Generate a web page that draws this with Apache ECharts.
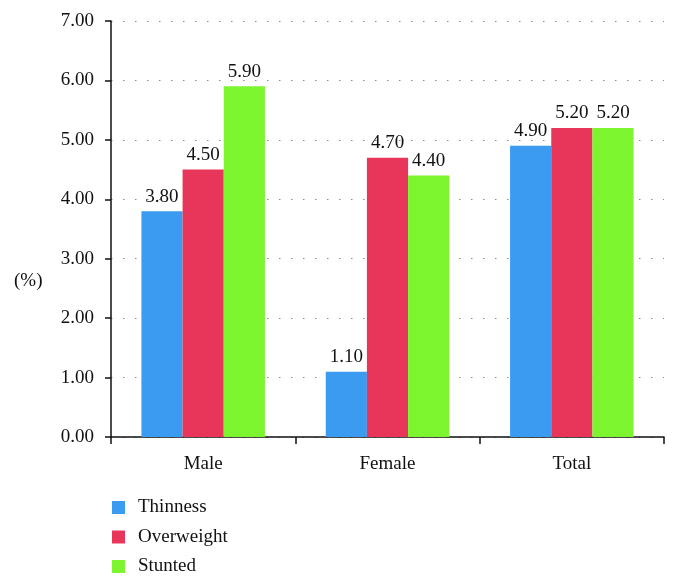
<!DOCTYPE html>
<html><head><meta charset="utf-8">
<script src="https://cdn.jsdelivr.net/npm/echarts@6/dist/echarts.min.js"></script>
<style>html,body{margin:0;padding:0;background:#fff}#c{width:679px;height:588px}</style>
</head><body><div id="c"></div>
<script>
const categories = ['Male', 'Female', 'Total'];
const thinness = [3.80, 1.10, 4.90];
const overweight = [4.50, 4.70, 5.20];
const stunted = [5.90, 4.40, 5.20];
const seriesNames = ['Thinness', 'Overweight', 'Stunted'];
const colors = ['#3A9BF0', '#E8365A', '#7CF52E'];
const FONT = '"Liberation Serif", "DejaVu Serif", serif';

const chart = echarts.init(document.getElementById('c'));
const mk = (name, data, color) => ({
  name, type: 'bar', data, barGap: '0%', barCategoryGap: '33%',
  itemStyle: { color },
  label: { show: true, position: 'top', distance: 5, formatter: p => p.value.toFixed(2),
    fontFamily: FONT, fontSize: 19, color: '#111' }
});
chart.setOption({
  animation: false,
  textStyle: { fontFamily: FONT },
  grid: { left: 111, right: 15, top: 21, bottom: 151, containLabel: false },
  legend: {
    orient: 'vertical', left: 107, top: 493, height: 95, itemWidth: 13, itemHeight: 13, itemGap: 10.5,
    icon: 'rect',
    textStyle: { fontFamily: FONT, fontSize: 19, color: '#111', padding: [0, 0, 0, 8] },
    data: seriesNames
  },
  xAxis: {
    type: 'category', data: categories,
    axisLine: { lineStyle: { color: '#111', width: 1.5 } },
    axisTick: { show: true, alignWithLabel: false, length: 7, inside: false, lineStyle: { color: '#111', width: 1.5 } },
    axisLabel: { fontFamily: FONT, fontSize: 19, color: '#111', margin: 18 }
  },
  yAxis: {
    type: 'value', min: 0, max: 7, interval: 1,
    axisLine: { show: true, lineStyle: { color: '#111', width: 1.5 } },
    axisTick: { show: true, length: 6, lineStyle: { color: '#111', width: 1.5 } },
    axisLabel: { fontFamily: FONT, fontSize: 19, color: '#111', margin: 17, formatter: v => v.toFixed(2) },
    splitLine: { show: true, lineStyle: { color: '#888', type: [1.5, 10.5], width: 1.2 } }
  },
  graphic: [{ type: 'text', left: 14, top: 272, style: { text: '(%)', font: '19px ' + FONT, fill: '#111' } }],
  series: [mk(seriesNames[0], thinness, colors[0]), mk(seriesNames[1], overweight, colors[1]), mk(seriesNames[2], stunted, colors[2])]
});
</script></body></html>
